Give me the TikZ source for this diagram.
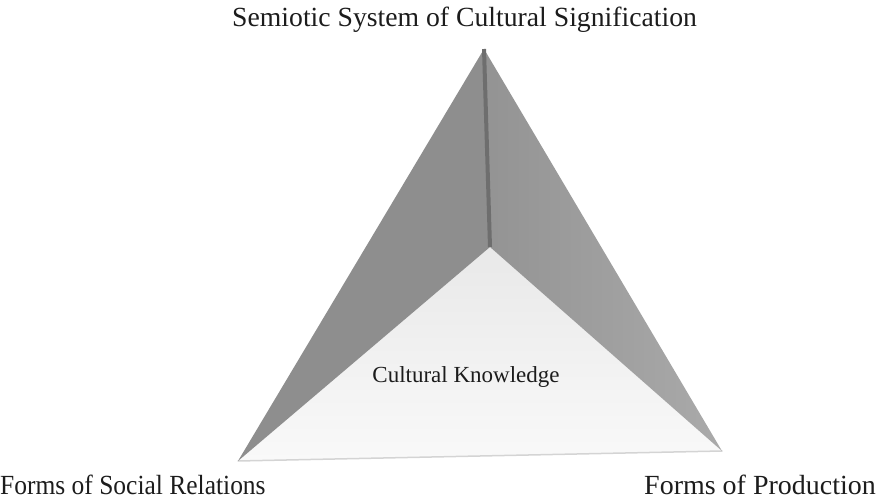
\documentclass[tikz,border=0pt]{standalone}
\usepackage{fontspec}
\setmainfont{Liberation Serif}
\definecolor{leftface}{HTML}{8E8E8E}
\definecolor{rightface}{HTML}{9B9B9B}
\definecolor{ridge}{HTML}{6E6E6E}
\definecolor{baseface}{HTML}{F0F0F0}
\definecolor{baseedge}{HTML}{D4D4D4}
\definecolor{ink}{HTML}{1C1C1C}
\begin{document}
\begin{tikzpicture}[x=1pt,y=-1pt,
  caption/.style={inner sep=0pt, text=ink, font=\fontsize{27.7}{32}\selectfont}]
\useasboundingbox (0,0) rectangle (879,500);
% corners of the pyramid
\coordinate (apex) at (484,49);
\coordinate (core) at (490,247);
\coordinate (bl) at (238,461);
\coordinate (br) at (722,451);
% faces
\shade[top color=baseface!80!gray!60!white, bottom color=baseface!40!white]
  (core) -- (bl) -- (br) -- cycle;
\draw[baseedge, line width=1.5pt, line cap=round] (bl) -- (br);
\fill[leftface] (apex) -- (bl) -- (core) -- cycle;
\shade[left color=rightface!95!black, right color=rightface!85!white]
  (apex) -- (core) -- (br) -- cycle;
\draw[ridge, line width=4pt] (apex) -- (core);
% labels
\node[caption, anchor=base west] (sign) at (232,27)
  {Semiotic System of Cultural Signification};
\node[caption, anchor=base west, xscale=0.92] (social) at (0,494)
  {Forms of Social Relations};
\node[caption, anchor=base east, xscale=1.01] (prod) at (876,494)
  {Forms of Production};
\node[caption, anchor=base, font=\fontsize{23}{27}\selectfont] (know) at (466,382)
  {Cultural Knowledge};
\end{tikzpicture}
\end{document}
